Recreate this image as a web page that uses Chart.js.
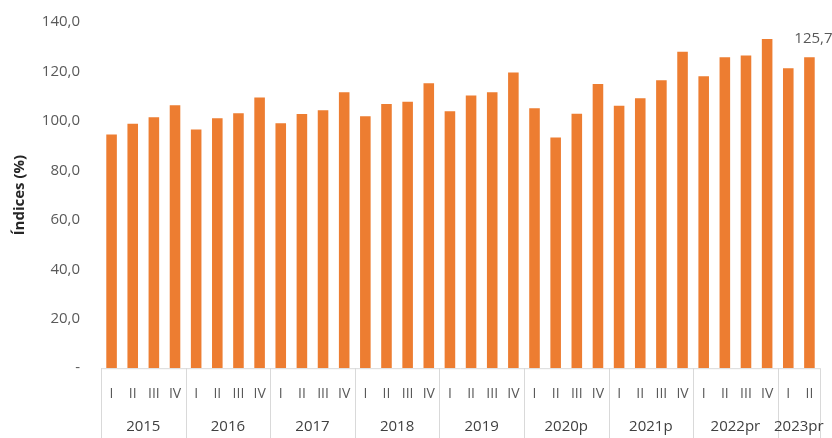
<!DOCTYPE html>
<html>
<head>
<meta charset="utf-8">
<script src="https://cdn.jsdelivr.net/npm/chart.js@4"></script>
<style>
  html, body { margin: 0; padding: 0; background: #fff; }
  #wrap { width: 832px; height: 438px; }
</style>
</head>
<body>
<div id="wrap"><canvas id="myChart"></canvas></div>
<script>
// quarters per year and the index values
var years = ['2015', '2016', '2017', '2018', '2019', '2020p', '2021p', '2022pr', '2023pr'];
var quartersPerYear = [4, 4, 4, 4, 4, 4, 4, 4, 2];
var quarterNames = ['I', 'II', 'III', 'IV'];
var values = [
    94.5, 98.9, 101.5, 106.3,
    96.5, 101.1, 103.1, 109.5,
    99.1, 102.8, 104.3, 111.6,
    101.9, 106.8, 107.8, 115.2,
    103.9, 110.3, 111.6, 119.6,
    105.1, 93.3, 102.9, 114.9,
    106.1, 109.2, 116.4, 128.0,
    118.1, 125.7, 126.5, 133.1,
    121.3, 125.7
];
var yTicks = [0, 20, 40, 60, 80, 100, 120, 140];

var labels = [];
quartersPerYear.forEach(function (n) {
    for (var q = 0; q < n; q++) labels.push(quarterNames[q]);
});

function fmt(v) {
    return v.toFixed(1).replace('.', ',');
}

var FONT = '"Open Sans", "Noto Sans", sans-serif';

// year boxes under the quarter labels, and the label on the last bar
var groupAxis = {
    id: 'groupAxis',
    afterDraw: function (chart) {
        var ctx = chart.ctx;
        var xs = chart.scales.x;
        var area = chart.chartArea;
        var half = (xs.getPixelForValue(1) - xs.getPixelForValue(0)) / 2;
        var bottom = chart.height;

        ctx.save();
        ctx.strokeStyle = '#d9d9d9';
        ctx.lineWidth = 1;
        ctx.beginPath();
        ctx.moveTo(area.left, area.bottom + 0.5);
        ctx.lineTo(area.right, area.bottom + 0.5);
        ctx.stroke();

        ctx.fillStyle = '#404040';
        ctx.font = '15px ' + FONT;
        ctx.textAlign = 'center';
        ctx.textBaseline = 'middle';

        var start = 0;
        for (var g = 0; g < years.length; g++) {
            var end = start + quartersPerYear[g] - 1;
            var x0 = Math.round(xs.getPixelForValue(start) - half) + 0.5;
            var x1 = Math.round(xs.getPixelForValue(end) + half) + 0.5;
            ctx.beginPath();
            ctx.moveTo(x0, area.bottom);
            ctx.lineTo(x0, bottom);
            ctx.moveTo(x1, area.bottom);
            ctx.lineTo(x1, bottom);
            ctx.stroke();
            var mid = (xs.getPixelForValue(start) + xs.getPixelForValue(end)) / 2;
            ctx.fillText(years[g], mid, area.bottom + 59);
            start = end + 1;
        }

        // value label on the last quarter
        var meta = chart.getDatasetMeta(0);
        var last = meta.data[meta.data.length - 1];
        ctx.fillStyle = '#595959';
        ctx.fillText(fmt(values[values.length - 1]), last.x + 4, last.y - 19);
        ctx.restore();
    }
};

new Chart(document.getElementById('myChart'), {
    type: 'bar',
    data: {
        labels: labels,
        datasets: [{
            data: values,
            backgroundColor: '#ed7d31',
            categoryPercentage: 1,
            barPercentage: 0.5
        }]
    },
    options: {
        responsive: true,
        maintainAspectRatio: false,
        animation: false,
        layout: {
            padding: { top: 7, right: 12, bottom: 27, left: 11 }
        },
        plugins: {
            legend: { display: false },
            tooltip: { enabled: false }
        },
        scales: {
            x: {
                grid: { display: false },
                border: { display: false },
                ticks: {
                    color: '#595959',
                    font: { family: FONT, size: 14 },
                    padding: 9,
                    maxRotation: 0,
                    autoSkip: false
                }
            },
            y: {
                min: 0,
                max: 140,
                afterBuildTicks: function (scale) {
                    scale.ticks = yTicks.map(function (v) { return { value: v }; });
                },
                afterFit: function (scale) {
                    scale.width = 90;
                },
                grid: { display: false },
                border: { display: false },
                ticks: {
                    color: '#595959',
                    font: { family: FONT, size: 15 },
                    padding: 13,
                    callback: function (v) {
                        return v === 0 ? '-' : fmt(v);
                    }
                },
                title: {
                    display: true,
                    text: 'Índices (%)',
                    color: '#262626',
                    font: { family: FONT, size: 15, weight: 'bold' },
                    padding: { top: 0, bottom: 0 }
                }
            }
        }
    },
    plugins: [groupAxis]
});
</script>
</body>
</html>
